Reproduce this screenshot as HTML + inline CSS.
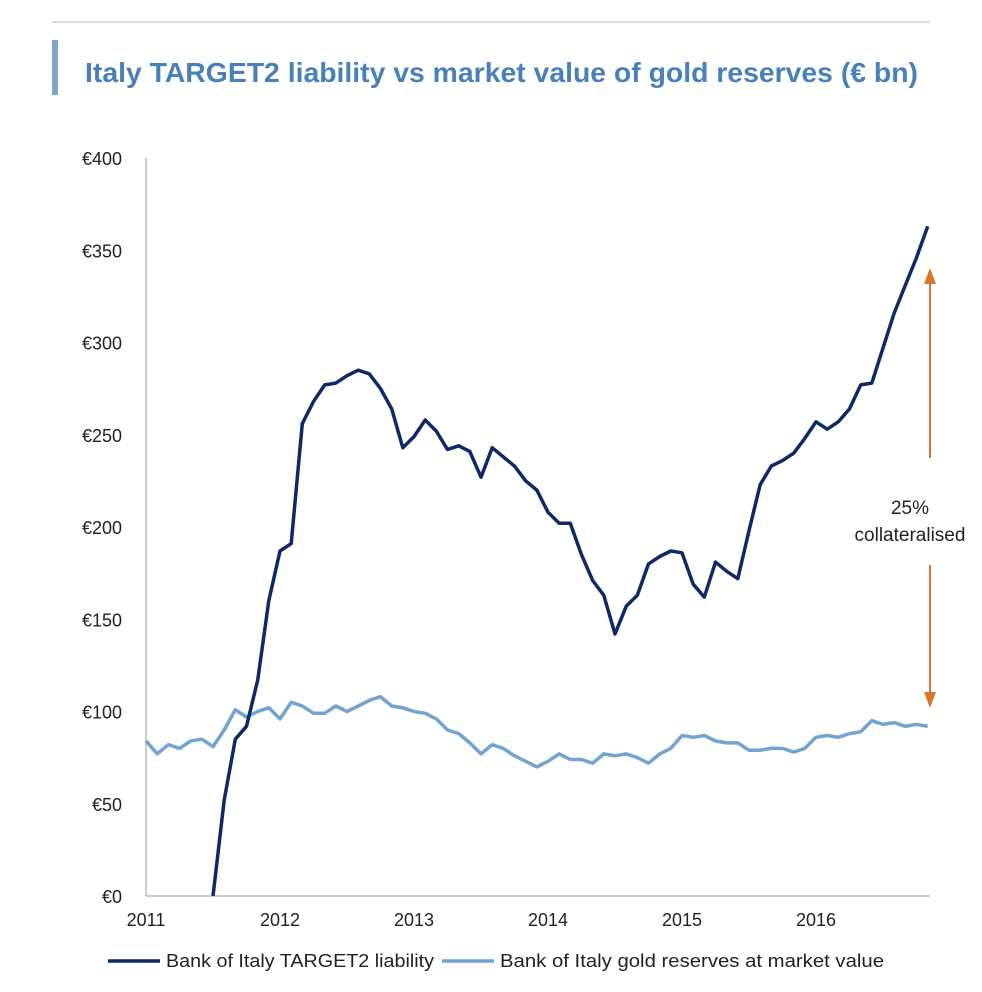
<!DOCTYPE html>
<html><head><meta charset="utf-8"><style>
body{margin:0;background:#fff;}
svg{display:block;font-family:"Liberation Sans",sans-serif;}
</style></head><body>
<svg id="c" width="982" height="992">
<line x1="52" y1="22" x2="930" y2="22" stroke="#d0d0d0" stroke-width="1.5"/>
<rect x="52" y="40" width="6" height="55" fill="#7fa7cc"/>
<text x="85" y="82" font-size="28" font-weight="bold" fill="#4a80b8" textLength="833" lengthAdjust="spacingAndGlyphs">Italy TARGET2 liability vs market value of gold reserves (€ bn)</text>
<g id="axes"></g>
<g id="series"></g>
<g>
<line x1="930" y1="280" x2="930" y2="458" stroke="#d9752b" stroke-width="2"/>
<line x1="930" y1="565" x2="930" y2="698" stroke="#d9752b" stroke-width="2"/>
<polygon points="930,268 924,284 936,284" fill="#d9752b"/>
<polygon points="930,708 924,692 936,692" fill="#d9752b"/>
<text x="910" y="514" font-size="19" text-anchor="middle" fill="#222">25%</text>
<text x="910" y="541" font-size="19" text-anchor="middle" fill="#222">collateralised</text>
</g>
<g>
<line x1="108" y1="961" x2="160" y2="961" stroke="#0d2a66" stroke-width="3.5"/>
<text x="166" y="967" font-size="18" fill="#222" textLength="268" lengthAdjust="spacingAndGlyphs">Bank of Italy TARGET2 liability</text>
<line x1="442" y1="961" x2="494" y2="961" stroke="#73a3d0" stroke-width="3.5"/>
<text x="500" y="967" font-size="18" fill="#222" textLength="384" lengthAdjust="spacingAndGlyphs">Bank of Italy gold reserves at market value</text>
</g>
</svg>
<script>
const yTicks=[0,50,100,150,200,250,300,350,400];
const xYears=[2011,2012,2013,2014,2015,2016];
// TARGET2 monthly from Jul 2011
const target2=[0,52,85,92,117,160,187,191,256,268,277,278,282,285,283,275,264,243,249,258,252,242,244,241,227,243,238,233,225,220,208,202,202,185,171,163,142,157,163,180,184,187,186,169,162,181,176,172,198,223,233,236,240,248,257,253,257,264,277,278,297,316,331,346,363];
// Gold monthly from Jan 2011
const gold=[84,77,82,80,84,85,81,90,101,97,100,102,96,105,103,99,99,103,100,103,106,108,103,102,100,99,96,90,88,83,77,82,80,76,73,70,73,77,74,74,72,77,76,77,75,72,77,80,87,86,87,84,83,83,79,79,80,80,78,80,86,87,86,88,89,95,93,94,92,93,92];
const NS='http://www.w3.org/2000/svg';
const x0=146,pxYear=134,y0=896,pxUnit=738/400;
const X=t=>x0+(t-2011)*pxYear, Y=v=>y0-v*pxUnit;
function mk(tag,attrs,parent,txt){const e=document.createElementNS(NS,tag);for(const k in attrs)e.setAttribute(k,attrs[k]);if(txt!==undefined)e.textContent=txt;parent.appendChild(e);return e;}
const ax=document.getElementById('axes'),se=document.getElementById('series');
let l=mk('line',{x1:x0,y1:158,x2:x0,y2:y0,stroke:'#bbb','stroke-width':1.5},ax);


l=mk('line',{x1:x0,y1:y0,x2:930,y2:y0,stroke:'#bbb','stroke-width':1.5},ax);


yTicks.forEach(v=>{const t=mk('text',{x:122,y:Y(v)+7,'font-size':18,'text-anchor':'end',fill:'#222'},ax,'€'+v);

});
xYears.forEach(yr=>{const t=mk('text',{x:X(yr),y:926,'font-size':18,'text-anchor':'middle',fill:'#222'},ax,String(yr));

});
function path(vals,start,color,name){const d=vals.map((v,i)=>(i?'L':'M')+X(start+i/12).toFixed(1)+','+Y(v).toFixed(1)).join('');
const p=mk('path',{d:d,fill:'none',stroke:color,'stroke-width':3.5,'stroke-linejoin':'round'},se);

}
path(gold,2011,'#73a3d0','gold-reserves-line');
path(target2,2011.5,'#0d2a66','target2-line');
</script>
</body></html>
